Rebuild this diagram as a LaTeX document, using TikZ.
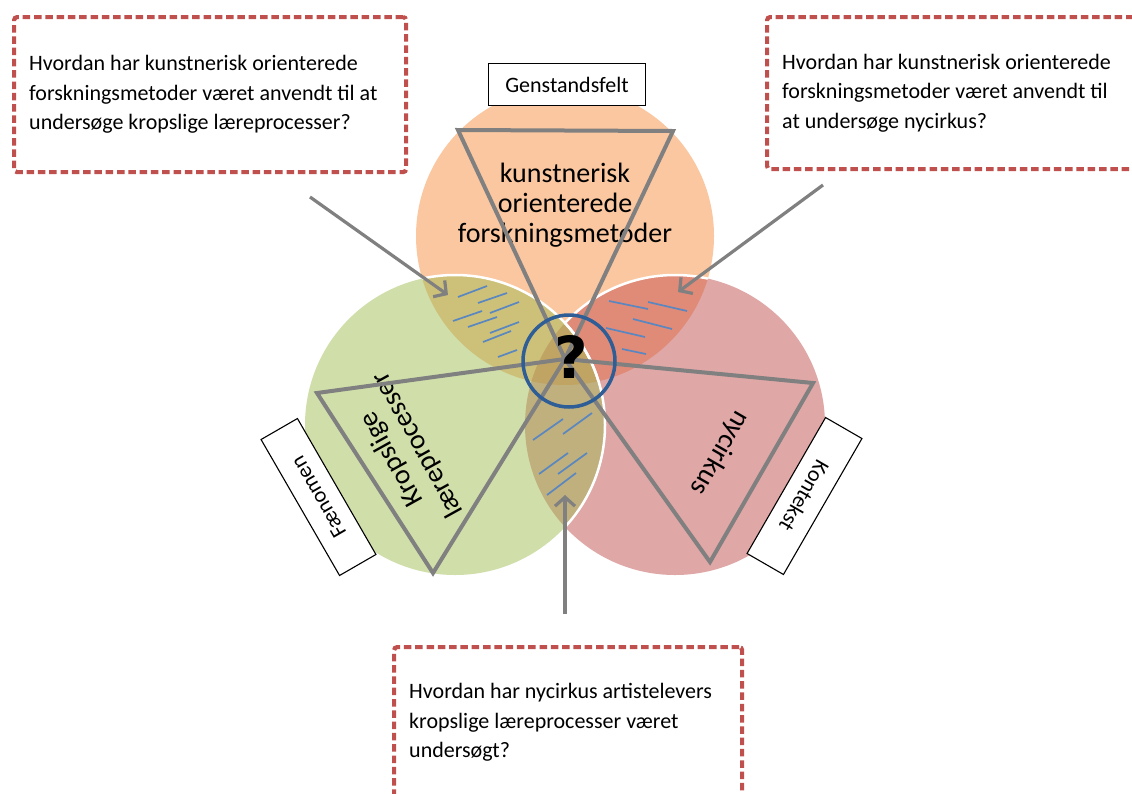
\documentclass[tikz,border=0pt]{standalone}
\usepackage{fontspec}
\setmainfont{Carlito}
\newfontfamily\qfont{DejaVu Sans}
\usetikzlibrary{arrows.meta}
\definecolor{cOrange}{HTML}{FAC7A0}
\definecolor{cGreen}{HTML}{D0DEAA}
\definecolor{cRed}{HTML}{DFA7A6}
\definecolor{cOlive}{HTML}{CDC17A}
\definecolor{cOrRed}{HTML}{E08A78}
\definecolor{cGrRed}{HTML}{BFB07E}
\definecolor{cTriple}{HTML}{C0A464}
\definecolor{triGray}{HTML}{808080}
\definecolor{arrGray}{HTML}{808080}
\definecolor{hatchBlue}{HTML}{5B87C0}
\definecolor{ringBlue}{HTML}{2F5D96}
\definecolor{boxRed}{HTML}{C0504D}
\begin{document}
\begin{tikzpicture}[x=1pt,y=-1pt,
  tri/.style={draw=triGray, line width=4pt, line join=miter},
  hatch/.style={draw=hatchBlue, line width=1.7pt},
  qbox/.style={draw=boxRed, line width=4.2pt, dash pattern=on 7.5pt off 3.8pt, rounded corners=3pt, inner sep=0pt, anchor=north west},
  garrow/.style={draw=arrGray, line width=3.2pt, -{Straight Barb[length=9pt,width=20pt]}},
  qtext/.style={font=\fontsize{22}{29.5}\selectfont, align=left, inner sep=0pt, anchor=west},
  tagbox/.style={draw=black, line width=1.1pt, fill=white, minimum width=157pt, minimum height=42pt, inner sep=0pt, font=\fontsize{22}{26}\selectfont},
  big/.style={font=\fontsize{28}{30}\selectfont, align=center, inner sep=0pt},
  whiteedge/.style={draw=white, line width=2.5pt}
]
\useasboundingbox (0,0) rectangle (1132,793);
\fill[white] (0,0) rectangle (1132,793);

% circle centres
\coordinate (cO) at (565,236);
\coordinate (cG) at (455,425);
\coordinate (cR) at (675,425);

% base fills
\fill[cOrange] (cO) circle[radius=149];
\fill[cRed] (cR) circle[radius=150];
\begin{scope}
  \clip (cO) circle[radius=149];
  \fill[cOrRed] (cR) circle[radius=150];
  \draw[whiteedge] (cR) circle[radius=150];
\end{scope}
\fill[cGreen] (cG) circle[radius=150];
\begin{scope}
  \clip (cG) circle[radius=150];
  \fill[cOlive] (cO) circle[radius=149];
  \fill[cGrRed] (cR) circle[radius=150];
  \clip (cO) circle[radius=149];
  \fill[cTriple] (cR) circle[radius=150];
\end{scope}
\begin{scope}
  \clip (cO) circle[radius=149];
  \draw[whiteedge] (cG) circle[radius=150];
\end{scope}
\begin{scope}
  \clip (cR) circle[radius=150];
  \draw[whiteedge] (cG) circle[radius=150];
\end{scope}

% hatches: green/orange lens
\draw[hatch] (458,297) -- (487,286);
\draw[hatch] (478,303) -- (507,293);
\draw[hatch] (453,321) -- (482,311);
\draw[hatch] (490,313) -- (519,302);
\draw[hatch] (468,327) -- (497,317);
\draw[hatch] (490,333) -- (519,322);
\draw[hatch] (483,342) -- (511,331);
\draw[hatch] (498,357) -- (517,350);
% hatches: orange/red lens
\draw[hatch] (609,301) -- (648,309);
\draw[hatch] (648,302) -- (687,311);
\draw[hatch] (633,319) -- (672,329);
\draw[hatch] (606,328) -- (645,337);
\draw[hatch] (622,349) -- (646,354);
% hatches: green/red lens
\draw[hatch] (533,440) -- (563,419);
\draw[hatch] (563,434) -- (592,413);
\draw[hatch] (539,474) -- (568,453);
\draw[hatch] (558,474) -- (587,453);
\draw[hatch] (547,495) -- (576,473);

% circle labels
\node[big] (lblK) at (565,205) {kunstnerisk\\orienterede\\forskningsmetoder};
\node[big, rotate=119] (lblL) at (405,452) {Kropslige\\læreprocesser};
\node[big, rotate=-120] (lblN) at (720,453) {nycirkus};

% triangles
\coordinate (apex) at (565,359);
\coordinate (tTa) at (458,130);
\coordinate (tTb) at (673,131);
\coordinate (tLa) at (317,393);
\coordinate (tLb) at (433,573);
\coordinate (tRa) at (813,383);
\coordinate (tRb) at (710,562);
\draw[tri] (tTa) -- (tTb) -- (apex) -- cycle;
\draw[tri] (tLa) -- (apex) -- (tLb) -- cycle;
\draw[tri] (tRa) -- (apex) -- (tRb) -- cycle;

% centre ring and question mark
\node[draw=ringBlue, line width=3.5pt, circle, minimum size=92pt, inner sep=0pt] (ring) at (569,361) {};
\node[font=\qfont\bfseries\fontsize{58}{58}\selectfont, inner sep=0pt] (qm) at (571,357) {?};

% arrows
\coordinate (a1s) at (310,197);
\coordinate (a1e) at (448,295);
\coordinate (a2s) at (823,185);
\coordinate (a2e) at (678,292);
\coordinate (a3s) at (565,614);
\coordinate (a3e) at (565,495);
\draw[garrow] (a1s) -- (a1e);
\draw[garrow] (a2s) -- (a2e);
\draw[garrow] (a3s) -- (a3e);

% tag boxes
\node[tagbox] (gen) at (567,84.5) {Genstandsfelt};
\node[tagbox, rotate=120] (faen) at (318.5,497) {Fænomen};
\node[tagbox, rotate=-120] (kont) at (804.5,496) {Kontekst};

% question boxes
\node[qbox, minimum width=392pt, minimum height=155pt] (q1) at (12,15) {};
\node[qtext] (q1t) at ([xshift=17pt]q1.west) {Hvordan har kunstnerisk orienterede\\forskningsmetoder været anvendt til at\\undersøge kropslige læreprocesser?};
\node[qbox, minimum width=392pt, minimum height=152pt] (q2) at (765,15) {};
\node[qtext] (q2t) at ([xshift=17pt]q2.west) {Hvordan har kunstnerisk orienterede\\forskningsmetoder været anvendt til\\at undersøge nycirkus?};
\node[qbox, minimum width=348pt, minimum height=151pt] (q3) at (392,645) {};
\node[qtext] (q3t) at ([xshift=17pt]q3.west) {Hvordan har nycirkus artistelevers\\kropslige læreprocesser været\\undersøgt?};
\end{tikzpicture}
\end{document}
